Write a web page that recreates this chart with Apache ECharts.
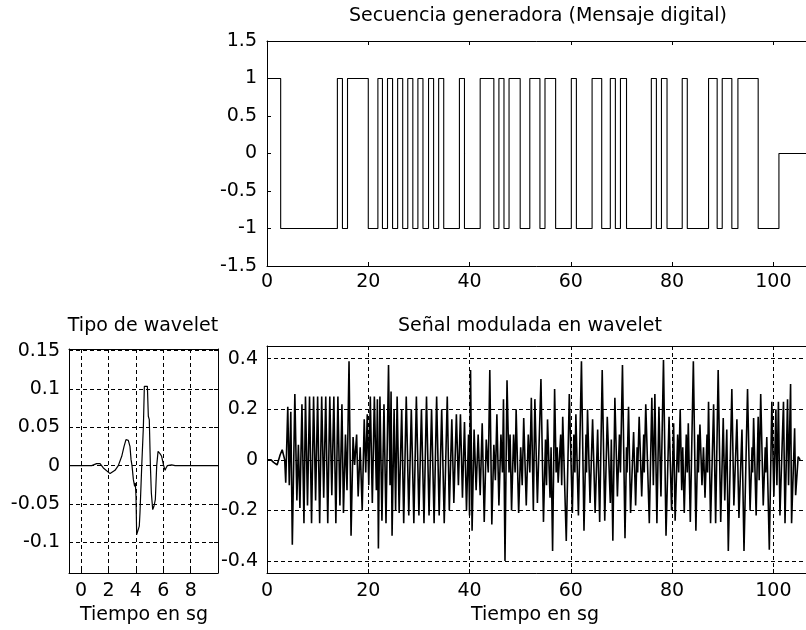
<!DOCTYPE html>
<html><head><meta charset="utf-8">
<script src="https://cdn.jsdelivr.net/npm/echarts@6/dist/echarts.min.js"></script>
<style>html,body{margin:0;padding:0;background:#fff}#c{width:806px;height:630px}</style>
</head><body><div id="c"></div>
<script>
// ---------- data ----------
// Top: digital message (square wave), transition times and level held from each time
const sqT = [0, 2.7, 13.9, 14.9, 15.9, 20.0, 21.9, 22.8, 23.8, 24.8, 25.8, 26.8, 27.8, 28.8, 29.8, 30.8, 31.9, 32.9, 33.9, 34.9,
  38.0, 39.0, 42.1, 44.8, 45.8, 46.8, 47.8, 50.0, 51.9, 53.9, 54.9, 57.0, 60.1, 61.1, 64.2, 66.1, 67.8, 68.8, 69.8, 71.0,
  75.9, 76.9, 77.9, 79.0, 82.0, 83.0, 87.2, 88.9, 89.9, 91.8, 93.0, 97.0, 101.1, 110];
const sqV = [1, -1, 1, -1, 1, -1, 1, -1, 1, -1, 1, -1, 1, -1, 1, -1, 1, -1, 1, -1,
  1, -1, 1, -1, 1, -1, 1, -1, 1, -1, 1, -1, 1, -1, 1, -1, 1, -1, 1, -1,
  1, -1, 1, -1, 1, -1, 1, -1, 1, -1, 1, -1, 0, 0];
const sqXTicks = [0, 20, 40, 60, 80, 100];
const sqYTicks = [-1.5, -1, -0.5, 0, 0.5, 1, 1.5];

// Bottom-left: wavelet shape
const wavT = [-0.875, 0.78, 0.90, 1.14, 1.39, 1.63, 2.12, 2.48, 2.72, 2.97, 3.14, 3.28, 3.45, 3.57, 3.65, 3.72, 3.82, 3.91, 3.96, 4.01,
  4.06, 4.18, 4.25, 4.30, 4.43, 4.55, 4.62, 4.74, 4.84, 4.91, 4.98, 5.06, 5.13, 5.23, 5.32, 5.42, 5.52, 5.62, 5.76, 5.88,
  6.01, 6.13, 6.20, 6.30, 6.61, 6.86, 9.99];
const wavV = [0, 0, 0.0026, 0.0026, 0.0026, -0.003, -0.0104, -0.0061, 0, 0.0122, 0.0252, 0.0339, 0.033, 0.0252, 0.0078, 0, -0.0183, -0.027, -0.0226, -0.040,
  -0.090, -0.0879, -0.079, -0.0618, 0, 0.0513, 0.1035, 0.1057, 0.1035, 0.0644, 0.060, 0, -0.0357, -0.0574, -0.053, -0.0444, 0, 0.0187, 0.0157, 0.0122,
  0.0013, -0.0061, -0.003, 0, 0.0009, 0, 0];
const wavXTicks = [0, 2, 4, 6, 8];
const wavYTicks = [-0.1, -0.05, 0, 0.05, 0.1, 0.15];

// Bottom-right: wavelet-modulated signal (time, amplitude)
const modSignal = [
  [0,0],[0.8,0],[1.3,-0.01],[2.0,-0.02],[2.6,0.02],[3.0,0.04],[3.3,0.045],[3.5,0],[3.7,-0.09],[4.1,0.21],[4.4,-0.1],[4.7,0.19],[5.0,-0.335],[5.5,0.26],
  [5.9,-0.16],[6.2,0.06],[6.5,-0.19],[6.9,0.22],[7.3,-0.25],[7.6,0.25],[8.0,-0.18],[8.4,0.25],[8.8,-0.25],[9.2,0.25],[9.6,-0.16],[10.0,0.25],[10.4,-0.25],[10.8,0.25],[11.2,-0.15],[11.6,0.25],[12.0,-0.25],[12.4,0.25],[12.8,-0.14],[13.2,0.25],[13.6,-0.25],[14.0,0.25],[14.4,-0.18],[14.8,0.22],[15.1,-0.21],[15.5,0.10],[15.8,-0.12],[16.2,0.39],[16.6,-0.30],[17.0,0.09],[17.3,-0.02],[17.7,0.10],[18.0,-0.145],[18.4,0.05],[18.8,-0.2],[19.2,0.16],[19.5,-0.05],[19.8,0.18],
  [20.1,-0.1],[20.4,0.25],[20.8,-0.17],[21.2,0.25],[21.6,-0.12],[21.8,0.24],[22.0,-0.35],[22.3,0.25],[22.7,-0.24],[23.1,0.22],[23.5,-0.25],[24.0,0.375],[24.3,-0.1],[24.5,0.27],[24.7,-0.3],[25.1,0.2],[25.4,-0.2],[25.7,0.25],[26.1,-0.21],
  [26.6,0.2],[27.0,-0.25],[27.5,0.25],[28.0,-0.22],[28.5,0.2],[29.0,-0.25],[29.5,0.25],[30.0,-0.22],[30.5,0.2],[31.0,-0.25],[31.5,0.25],[32.0,-0.22],[32.5,0.2],[33.0,-0.25],[33.5,0.25],[34.0,-0.22],[34.5,0.2],[35.0,-0.25],[35.6,0.25],
  [36.0,-0.2],[36.5,0.16],[36.9,-0.17],[37.4,0.18],[37.8,-0.1],[38.2,0.18],[38.6,-0.15],[39.0,0.15],[39.4,-0.2],[39.8,0.1],[40.0,-0.22],[40.2,0.355],[40.5,-0.28],
  [40.9,0.12],[41.3,-0.12],[41.7,0.10],[42.1,-0.14],[42.5,0.145],[42.9,-0.245],[43.3,0.08],[43.7,-0.05],[44.0,0.355],[44.4,-0.255],[44.8,0.06],[45.1,-0.08],[45.4,0.18],[45.8,-0.18],[46.2,0.1],[46.5,-0.05],[46.7,0.24],[47.0,-0.40],[47.4,0.315],[47.8,-0.05],[48.0,0.1],[48.3,-0.2],[48.7,0.1],[49.0,-0.05],[49.2,0.2],[49.7,-0.21],[50.1,0.05],[50.4,-0.1],[50.7,0.165],[51.2,-0.18],[51.6,0.1],[51.9,-0.05],[52.2,0.245],[52.6,-0.2],
  [52.9,0.24],[53.4,-0.17],[54.1,0.32],[54.6,-0.245],[55.0,0.08],[55.2,-0.1],[55.4,0.16],[55.9,-0.15],[56.1,0.05],[56.4,-0.36],[56.8,0.28],[57.1,-0.05],[57.3,0.05],[57.5,-0.09],[58.0,0.1],[58.2,-0.1],[58.4,0.17],
  [59.1,-0.32],[59.7,0.26],[60.3,-0.21],[60.6,0.1],[60.8,-0.05],[61.0,0.18],[61.5,-0.22],[62.1,0.39],[62.6,-0.28],[63.0,0.1],[63.1,-0.05],[63.3,0.2],[63.8,-0.17],[64.3,0.16],[64.8,-0.21],[65.3,0.12],[65.7,-0.245],[66.2,0.355],[66.7,-0.24],[67.2,0.17],[67.8,-0.17],[68.0,0.08],[68.3,-0.32],[68.7,0.245],[69.2,-0.145],[69.6,0.1],[69.8,-0.05],[70.2,0.375],[70.7,-0.31],[71.0,0.05],[71.1,-0.05],[71.4,0.21],[71.8,-0.21],[72.4,0.11],[72.8,-0.18],[73.1,0.05],[73.2,-0.05],[73.5,0.17],[74.0,-0.145],[74.4,0.1],[74.5,-0.05],[74.8,0.22],[75.5,-0.25],[76.0,0.245],[76.3,-0.1],[76.6,0.26],[77.0,-0.25],[77.4,0.21],[77.8,-0.145],[78.3,0.395],[78.8,-0.3],[79.4,0.17],[79.9,-0.2],
  [80.3,0.145],[80.6,-0.24],[81.1,0.1],[81.3,-0.05],[81.6,0.2],[81.9,-0.12],[82.1,0.05],[82.4,-0.21],[82.8,0.1],[83.0,-0.05],[83.2,0.145],[83.6,-0.245],[84.2,0.39],[84.7,-0.28],[85.1,0.1],[85.2,-0.05],[85.5,0.14],[85.9,-0.1],[86.2,0.05],[86.5,-0.15],[86.9,0.1],[87.0,-0.05],[87.2,0.23],[87.6,-0.25],[88.2,0.22],[88.6,-0.25],[89.1,0.355],[89.6,-0.245],[90.1,0.165],[90.4,-0.16],[90.8,0.12],[91.1,-0.36],[91.8,0.28],[92.2,-0.18],[92.8,0.16],[93.2,-0.23],[93.8,0.12],[94.2,-0.36],[94.9,0.28],[95.4,-0.2],[95.8,0.05],[95.9,-0.05],[96.1,0.165],[96.6,-0.22],[97.0,0.17],[97.2,-0.08],[97.5,0.26],[98.0,-0.18],[98.4,0.05],[98.5,-0.05],[98.7,0.09],[99.2,-0.355],[99.7,0.23],[100.1,-0.145],[100.5,0.2],[100.7,-0.1],[101.0,0.23],[101.3,-0.22],[102.0,0.23],[102.3,-0.25],[102.8,0.24],[103.0,-0.1],[103.4,0.3],[103.6,-0.25],[104.2,0.125],[104.4,-0.14],[104.9,0.013],[105.3,0]
];
const modXTicks = [0, 20, 40, 60, 80, 100];
const modYTicks = [-0.4, -0.2, 0, 0.2, 0.4];

const titles = {
  top: 'Secuencia generadora (Mensaje digital)',
  wav: 'Tipo de wavelet',
  mod: 'Señal modulada en wavelet',
  xlab: 'Tiempo en sg'
};

// ---------- styling ----------
const FONT = 'DejaVu Sans';
const FS = 19;
const INK = '#000';

function axis(opts) {
  return {
    type: 'value',
    gridIndex: opts.grid,
    position: opts.position,
    min: opts.min, max: opts.max,
    axisLine: { show: true, onZero: false, lineStyle: { color: INK, width: 1 } },
    axisTick: { show: true, inside: true, length: 4, lineStyle: { color: INK, width: 1 }, customValues: opts.custom },
    axisLabel: { show: !!opts.labels, color: INK, fontFamily: FONT, fontSize: FS, margin: opts.margin || 8, customValues: opts.custom },
    splitLine: opts.grid_lines ? { show: true, lineStyle: { color: INK, width: 1, type: [4, 3] } } : { show: false },
    minorTick: { show: false }
  };
}

const option = {
  animation: false,
  backgroundColor: '#fff',
  grid: [
    { left: 267, top: 41, width: 557, height: 225, outerBoundsMode: 'none', containLabel: false },
    { left: 69, top: 349, width: 149, height: 224, outerBoundsMode: 'none', containLabel: false },
    { left: 267, top: 346, width: 557, height: 227, outerBoundsMode: 'none', containLabel: false }
  ],
  xAxis: [
    axis({ grid: 0, position: 'bottom', min: 0, max: 110, custom: sqXTicks, labels: true, margin: 7 }),
    axis({ grid: 0, position: 'top', min: 0, max: 110, custom: sqXTicks }),
    axis({ grid: 1, position: 'bottom', min: -0.875, max: 9.99, custom: wavXTicks, labels: true, margin: 9, grid_lines: true }),
    axis({ grid: 1, position: 'top', min: -0.875, max: 9.99, custom: wavXTicks }),
    axis({ grid: 2, position: 'bottom', min: 0, max: 110, custom: modXTicks, labels: true, margin: 9, grid_lines: true }),
    axis({ grid: 2, position: 'top', min: 0, max: 110, custom: modXTicks })
  ],
  yAxis: [
    axis({ grid: 0, position: 'left', min: -1.5, max: 1.5, custom: sqYTicks, labels: true, margin: 10 }),
    axis({ grid: 1, position: 'left', min: -0.1401, max: 0.1522, custom: wavYTicks, labels: true, margin: 9, grid_lines: true }),
    axis({ grid: 1, position: 'right', min: -0.1401, max: 0.1522, custom: wavYTicks }),
    axis({ grid: 2, position: 'left', min: -0.447, max: 0.45, custom: modYTicks, labels: true, margin: 9, grid_lines: true })
  ],
  series: [
    {
      type: 'line', xAxisIndex: 0, yAxisIndex: 0, step: 'end', showSymbol: false, symbol: 'none',
      lineStyle: { color: INK, width: 1.1 }, data: sqT.map((t, i) => [t, sqV[i]])
    },
    {
      type: 'line', xAxisIndex: 2, yAxisIndex: 1, showSymbol: false, symbol: 'none',
      lineStyle: { color: INK, width: 1.2 }, data: wavT.map((t, i) => [t, wavV[i]])
    },
    {
      type: 'line', xAxisIndex: 4, yAxisIndex: 3, showSymbol: false, symbol: 'none',
      lineStyle: { color: INK, width: 1.6 }, data: modSignal
    }
  ],
  graphic: [
    { type: 'text', x: 538, y: 16, style: { text: titles.top, fontFamily: FONT, fontSize: FS, fill: INK, align: 'center', verticalAlign: 'middle' } },
    { type: 'text', x: 143, y: 326, style: { text: titles.wav, fontFamily: FONT, fontSize: FS, fill: INK, align: 'center', verticalAlign: 'middle' } },
    { type: 'text', x: 530, y: 326, style: { text: titles.mod, fontFamily: FONT, fontSize: FS, fill: INK, align: 'center', verticalAlign: 'middle' } },
    { type: 'text', x: 144, y: 615, style: { text: titles.xlab, fontFamily: FONT, fontSize: FS, fill: INK, align: 'center', verticalAlign: 'middle' } },
    { type: 'text', x: 535, y: 615, style: { text: titles.xlab, fontFamily: FONT, fontSize: FS, fill: INK, align: 'center', verticalAlign: 'middle' } }
  ]
};

const chart = echarts.init(document.getElementById('c'), null, { renderer: 'canvas', width: 806, height: 630 });
chart.setOption(option);
</script>
</body></html>
